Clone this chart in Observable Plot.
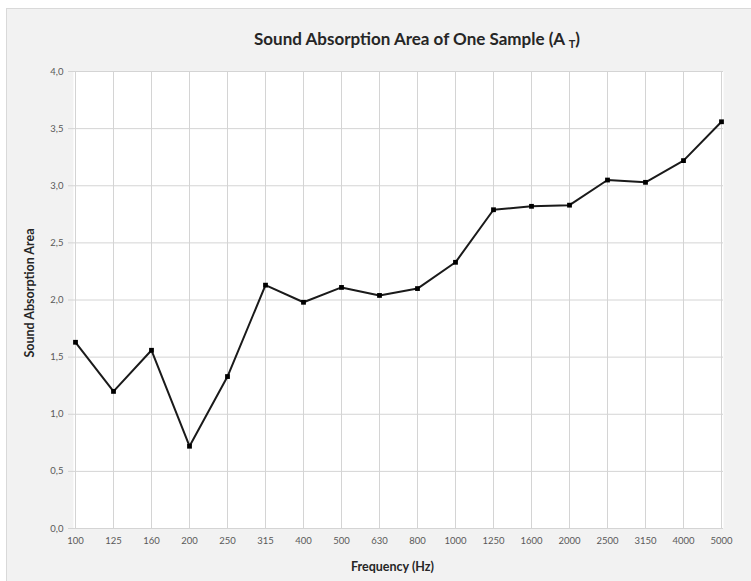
<!DOCTYPE html>
<html>
<head>
<meta charset="utf-8">
<script src="https://cdn.jsdelivr.net/npm/d3@7"></script>
<script src="https://cdn.jsdelivr.net/npm/@observablehq/plot@0.6"></script>
<style>
  html, body { margin: 0; padding: 0; background: #ffffff; }
  #page { position: relative; width: 751px; height: 581px; overflow: hidden; background: #ffffff; }
  #panel { position: absolute; left: 6px; top: 8px; width: 800px; height: 620px; background: #f2f2f2; border: 1px solid #d9d9d9; }
  #wrap { position: absolute; left: 0; top: 0; width: 751px; }
  #title { box-sizing: border-box; width: 751px; height: 60px; padding-left: 83px; padding-top: 29px;
           text-align: center; font-family: Lato, "Open Sans", sans-serif; font-weight: bold; font-size: 17px;
           line-height: 20px; color: #262626; white-space: nowrap; }
  #title sub { font-size: 11px; vertical-align: -3px; line-height: 0; }
</style>
</head>
<body>
<div id="page">
  <div id="panel"></div>
  <div id="wrap">
    <div id="title">Sound Absorption Area of One Sample (A <sub>T</sub>)</div>
    <div id="chart"></div>
  </div>
</div>
<script>
const frequencies = ["100","125","160","200","250","315","400","500","630","800","1000","1250","1600","2000","2500","3150","4000","5000"];
const absorption = [1.63,1.20,1.56,0.72,1.33,2.13,1.98,2.11,2.04,2.10,2.33,2.79,2.82,2.83,3.05,3.03,3.22,3.56];
const yTicks = [0,0.5,1,1.5,2,2.5,3,3.5,4];
const yAxisTitle = "Sound Absorption Area";
const xAxisTitle = "Frequency (Hz)";

const data = frequencies.map((f, i) => ({f, v: absorption[i]}));
const grid = "#d4d4d4";

const chart = Plot.plot({
  width: 751,
  height: 521,
  marginLeft: 73,
  marginRight: 28,
  marginTop: 11,
  marginBottom: 53,
  style: {fontFamily: "Lato, 'Open Sans', sans-serif", background: "transparent", overflow: "visible"},
  x: {type: "point", domain: frequencies, padding: 0, label: null},
  y: {domain: [0, 4], label: null},
  marks: [
    Plot.frame({fill: "white", stroke: "none"}),
    Plot.gridX(frequencies, {stroke: grid, strokeOpacity: 1, strokeWidth: 1}),
    Plot.gridY(yTicks, {stroke: grid, strokeOpacity: 1, strokeWidth: 1}),
    Plot.axisX(frequencies, {tickSize: 0, tickPadding: 9, fontSize: 9.5, fill: "#595959", label: null}),
    Plot.axisY(yTicks, {tickSize: 5, tickPadding: 5, stroke: grid, strokeOpacity: 1, fontSize: 9.5, fill: "#595959",
      tickFormat: d => d.toFixed(1).replace(".", ","), label: null}),
    Plot.line(data, {x: "f", y: "v", stroke: "#1a1a1a", strokeWidth: 2}),
    Plot.dot(data, {x: "f", y: "v", symbol: "square", fill: "#000000", stroke: "none", r: 2.7}),
    Plot.text([yAxisTitle], {frameAnchor: "left", textAnchor: "middle", dx: -44, dy: -7, rotate: -90, fontWeight: "bold", fontSize: 12.5, fill: "#262626"}),
    Plot.text([xAxisTitle], {frameAnchor: "bottom", textAnchor: "middle", dy: 38, dx: -6, lineAnchor: "middle", fontWeight: "bold", fontSize: 12.5, fill: "#262626"})
  ]
});
document.getElementById("chart").appendChild(chart);
</script>
</body>
</html>
